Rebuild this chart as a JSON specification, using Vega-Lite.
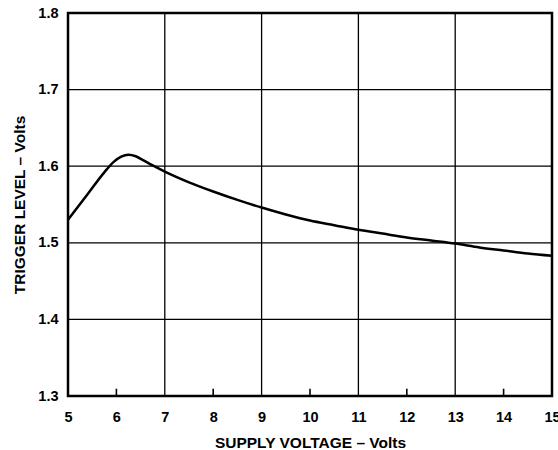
{
  "$schema": "https://vega.github.io/schema/vega-lite/v6.json",
  "width": 484,
  "height": 383,
  "autosize": {"type": "none"},
  "padding": {"left": 68, "top": 13, "right": 6, "bottom": 54},
  "background": "white",
  "config": {
    "view": {"stroke": "black", "strokeWidth": 2.5},
    "font": "Liberation Sans",
    "axis": {"labelFont": "Liberation Sans", "titleFont": "Liberation Sans", "labelFontWeight": "bold", "titleFontWeight": "bold", "labelColor": "black", "titleColor": "black", "labelFontSize": 14.5, "titleFontSize": 15.5}
  },
  "datasets": {
    "curve": [
      {"v": 5.0, "t": 1.53}, {"v": 5.4, "t": 1.563}, {"v": 5.75, "t": 1.592}, {"v": 5.95, "t": 1.606},
      {"v": 6.1, "t": 1.6125}, {"v": 6.25, "t": 1.615}, {"v": 6.4, "t": 1.613}, {"v": 6.55, "t": 1.608},
      {"v": 6.75, "t": 1.601}, {"v": 7.0, "t": 1.593}, {"v": 7.5, "t": 1.579}, {"v": 8.0, "t": 1.567},
      {"v": 8.5, "t": 1.556}, {"v": 9.0, "t": 1.546}, {"v": 9.5, "t": 1.537}, {"v": 10.0, "t": 1.529},
      {"v": 10.5, "t": 1.523}, {"v": 11.0, "t": 1.517}, {"v": 11.5, "t": 1.512}, {"v": 12.0, "t": 1.507},
      {"v": 12.5, "t": 1.503}, {"v": 13.0, "t": 1.499}, {"v": 13.5, "t": 1.494}, {"v": 14.0, "t": 1.49},
      {"v": 14.5, "t": 1.486}, {"v": 15.0, "t": 1.483}
    ],
    "vgrid": [{"v": 7}, {"v": 9}, {"v": 11}, {"v": 13}],
    "hgrid": [{"t": 1.4}, {"t": 1.5}, {"t": 1.6}, {"t": 1.7}],
    "minor": [{"v": 6}, {"v": 8}, {"v": 10}, {"v": 12}, {"v": 14}]
  },
  "layer": [
    {
      "data": {"name": "vgrid"},
      "mark": {"type": "rule", "color": "black", "strokeWidth": 1.3},
      "encoding": {
        "x": {"field": "v", "type": "quantitative", "scale": {"domain": [5, 15], "nice": false, "zero": false},
          "axis": {"values": [5, 6, 7, 8, 9, 10, 11, 12, 13, 14, 15], "format": "d", "title": "SUPPLY VOLTAGE – Volts", "grid": false, "domain": false, "ticks": false, "labelPadding": 14, "titlePadding": 12, "labelFlush": false}}
      }
    },
    {
      "data": {"name": "minor"},
      "mark": {"type": "rule", "color": "black", "strokeWidth": 1.6},
      "encoding": {
        "x": {"field": "v", "type": "quantitative"},
        "y": {"datum": 1.3, "type": "quantitative"},
        "y2": {"datum": 1.3095}
      }
    },
    {
      "data": {"name": "hgrid"},
      "mark": {"type": "rule", "color": "black", "strokeWidth": 1.3},
      "encoding": {
        "y": {"field": "t", "type": "quantitative", "scale": {"domain": [1.3, 1.8], "nice": false, "zero": false},
          "axis": {"values": [1.3, 1.4, 1.5, 1.6, 1.7, 1.8], "format": ".1f", "title": "TRIGGER LEVEL – Volts", "grid": false, "domain": false, "ticks": false, "labelPadding": 10, "titlePadding": 10, "labelFlush": false}}
      }
    },
    {
      "data": {"name": "curve"},
      "mark": {"type": "line", "color": "black", "strokeWidth": 2.5, "interpolate": "monotone"},
      "encoding": {
        "x": {"field": "v", "type": "quantitative"},
        "y": {"field": "t", "type": "quantitative"}
      }
    }
  ]
}
